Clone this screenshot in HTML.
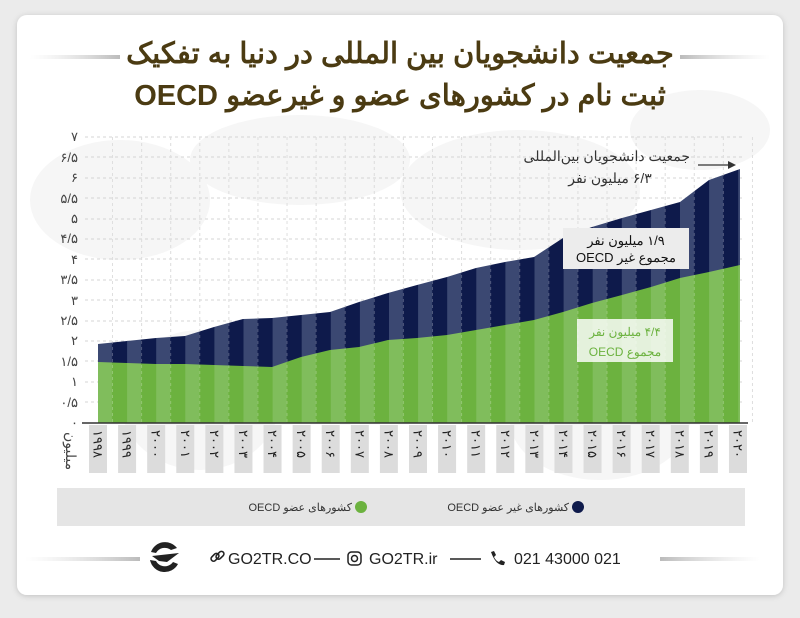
<!DOCTYPE html>
<html><head><meta charset="utf-8"><style>
html,body{margin:0;padding:0;background:#ebebeb;}
body{width:800px;height:618px;position:relative;overflow:hidden;font-family:"Liberation Sans","Noto Sans CJK SC",sans-serif;}
</style></head><body>
<svg width="800" height="618" viewBox="0 0 800 618" xmlns="http://www.w3.org/2000/svg" style="position:absolute;left:0;top:0">
<defs>
<filter id="sh" x="-5%" y="-5%" width="110%" height="110%"><feDropShadow dx="0" dy="1" stdDeviation="3" flood-color="#000" flood-opacity="0.18"/></filter>
<pattern id="pn" patternUnits="userSpaceOnUse" width="29.1" height="10" x="98" y="0">
<rect width="29.1" height="10" fill="#0e1a4b"/><rect x="0" width="14" height="10" fill="#3b4872"/></pattern>
<pattern id="pg" patternUnits="userSpaceOnUse" width="29.1" height="10" x="98" y="0">
<rect width="29.1" height="10" fill="#6cb23f"/><rect x="0" width="14" height="10" fill="#80bd5c"/></pattern>
<linearGradient id="gl" x1="0" x2="1"><stop offset="0" stop-color="#ddd" stop-opacity="0"/><stop offset="1" stop-color="#bbb"/></linearGradient>
<linearGradient id="gr" x1="0" x2="1"><stop offset="0" stop-color="#bbb"/><stop offset="1" stop-color="#ddd" stop-opacity="0"/></linearGradient>
</defs>
<rect x="17" y="15" width="766" height="580" rx="10" fill="#fff" filter="url(#sh)"/>
<g fill="#f6f6f6">
<ellipse cx="120" cy="200" rx="90" ry="60"/><ellipse cx="300" cy="160" rx="110" ry="45"/><ellipse cx="520" cy="190" rx="120" ry="60"/><ellipse cx="700" cy="130" rx="70" ry="40"/><ellipse cx="200" cy="400" rx="80" ry="70"/><ellipse cx="600" cy="420" rx="90" ry="60"/>
</g>
<rect x="30" y="55" width="90" height="4" fill="url(#gl)"/>
<rect x="680" y="55" width="90" height="4" fill="url(#gr)"/>
<g font-family="'Liberation Sans','Noto Sans CJK SC',sans-serif" font-weight="bold" fill="#4b3b12" text-anchor="middle" font-size="29">
<text x="400" y="63" direction="rtl">جمعیت دانشجویان بین المللی در دنیا به تفکیک</text>
<text x="400" y="105" direction="rtl">ثبت نام در کشورهای عضو و غیرعضو OECD</text>
</g>
<g stroke="#d4d4d4" stroke-width="1" stroke-dasharray="3,3">
<line x1="85" x2="745" y1="137" y2="137"/><line x1="85" x2="745" y1="157" y2="157"/><line x1="85" x2="745" y1="178" y2="178"/><line x1="85" x2="745" y1="198" y2="198"/><line x1="85" x2="745" y1="219" y2="219"/><line x1="85" x2="745" y1="239" y2="239"/><line x1="85" x2="745" y1="259" y2="259"/><line x1="85" x2="745" y1="280" y2="280"/><line x1="85" x2="745" y1="300" y2="300"/><line x1="85" x2="745" y1="321" y2="321"/><line x1="85" x2="745" y1="341" y2="341"/><line x1="85" x2="745" y1="361" y2="361"/><line x1="85" x2="745" y1="382" y2="382"/><line x1="85" x2="745" y1="402" y2="402"/>
</g>
<g stroke="#d4d4d4" stroke-dasharray="3,3" id="vg"></g>
<polygon fill="url(#pn)" points="98,423 98,344 127,341 156,338 185,336 214,327 243,319 272,318 301,315 330,312 359,302 388,293 417,285 447,277 476,268 505,262 534,257 563,238 592,227 622,218 651,210 680,202 709,180 740,169 740,423"/>
<polygon fill="url(#pg)" points="98,423 98,362 127,363 156,364 185,364 214,365 243,366 272,367 301,357 330,350 359,347 388,340 417,338 447,335 476,330 505,325 534,320 563,312 592,303 622,295 651,287 680,278 709,272 740,265 740,423"/>
<g stroke="#ffffff" stroke-opacity="0.25" stroke-dasharray="3,3" id="vg2"></g>
<line x1="82" x2="748" y1="423" y2="423" stroke="#333" stroke-width="1.5"/>
<g font-size="13" fill="#444" text-anchor="end" font-family="'Liberation Sans','Noto Sans CJK SC',sans-serif">
<text x="78" y="427">۰</text><text x="78" y="407">۰/۵</text><text x="78" y="386">۱</text><text x="78" y="366">۱/۵</text><text x="78" y="345">۲</text><text x="78" y="325">۲/۵</text><text x="78" y="305">۳</text><text x="78" y="284">۳/۵</text><text x="78" y="264">۴</text><text x="78" y="243">۴/۵</text><text x="78" y="223">۵</text><text x="78" y="203">۵/۵</text><text x="78" y="182">۶</text><text x="78" y="162">۶/۵</text><text x="78" y="141">۷</text>
</g>
<text transform="translate(66,432) rotate(90)" font-size="14" fill="#444" font-family="'Liberation Sans','Noto Sans CJK SC',sans-serif">میلیون</text>
<g id="xl" font-size="13" fill="#222" font-family="'Liberation Sans','Noto Sans CJK SC',sans-serif"></g>
<g font-family="'Liberation Sans','Noto Sans CJK SC',sans-serif">
<text x="690" y="161" font-size="14" fill="#333" text-anchor="start" direction="rtl">جمعیت دانشجویان بین‌المللی</text>
<text x="610" y="183" font-size="14" fill="#333" text-anchor="middle" direction="rtl">۶/۳ میلیون نفر</text>
<line x1="698" x2="730" y1="165" y2="165" stroke="#333" stroke-width="1.3"/>
<polygon points="736,165 728,161 728,169" fill="#333"/>
<rect x="563" y="228" width="126" height="41" fill="#ececec"/>
<text x="626" y="245" font-size="13" fill="#111" text-anchor="middle" direction="rtl">۱/۹ میلیون نفر</text>
<text x="626" y="262" font-size="13" fill="#111" text-anchor="middle" direction="rtl">مجموع غیر OECD</text>
<rect x="577" y="319" width="96" height="43" fill="#fff" fill-opacity="0.82"/>
<text x="625" y="336" font-size="12" fill="#6cb23f" text-anchor="middle" direction="rtl">۴/۴ میلیون نفر</text>
<text x="625" y="356" font-size="12" fill="#6cb23f" text-anchor="middle" direction="rtl">مجموع OECD</text>
</g>
<rect x="57" y="488" width="688" height="38" fill="#e5e5e5"/>
<circle cx="578" cy="507" r="6" fill="#0e1a4b"/>
<circle cx="361" cy="507" r="6" fill="#6cb23f"/>
<g font-size="11" fill="#333" text-anchor="start" font-family="'Liberation Sans','Noto Sans CJK SC',sans-serif">
<text x="569" y="511" direction="rtl">کشورهای غیر عضو OECD</text>
<text x="352" y="511" direction="rtl">کشورهای عضو OECD</text>
</g>
<rect x="25" y="557" width="115" height="4" fill="url(#gl)"/>
<rect x="660" y="557" width="100" height="4" fill="url(#gr)"/>
<g transform="translate(165,558)">
<path d="M-14,-6 A15,15 0 0 1 12,-10 L6,-8 A10,10 0 0 0 -9,-5 Z" fill="#222"/>
<path d="M-15,2 A15,15 0 0 0 13,6 L8,4 A10,10 0 0 1 -9,3 Z" fill="#222"/>
<path d="M-13,-2 L14,-5 L2,4 L-6,3 Z" fill="#222"/>
</g>
<g font-size="16" fill="#222" font-family="'Liberation Sans',sans-serif">
<g fill="none" stroke="#222" stroke-width="1.6"><rect x="211" y="555" width="9" height="5" rx="2.5" transform="rotate(-45 215 558)"/><rect x="216" y="553" width="9" height="5" rx="2.5" transform="rotate(-45 220 556)"/></g>
<text x="228" y="564">GO2TR.CO</text>
<line x1="314" x2="340" y1="559" y2="559" stroke="#222" stroke-width="1.5"/>
<rect x="348" y="552" width="13" height="13" rx="3.5" fill="none" stroke="#222" stroke-width="1.5"/>
<circle cx="354.5" cy="558.5" r="3" fill="none" stroke="#222" stroke-width="1.5"/>
<text x="369" y="564">GO2TR.ir</text>
<line x1="450" x2="481" y1="559" y2="559" stroke="#222" stroke-width="1.5"/>
<path d="M491,552 l3,-1 l2,4 l-2,2 q2,4 5,5 l2,-2 l4,2 l-1,3 q-8,1 -13,-13z" fill="#222"/>
<text x="514" y="564">021 43000 021</text>
</g>
</svg>
<script>
var ns="http://www.w3.org/2000/svg";
var pa="۰۱۲۳۴۵۶۷۸۹";
function fd(s){return String(s).replace(/[0-9]/g,function(c){return pa[+c];});}
var xl=document.getElementById("xl"),vg=document.getElementById("vg"),vg2=document.getElementById("vg2");
for(var i=0;i<23;i++){
 var x=98+i*29.09;
 var r=document.createElementNS(ns,"rect");
 r.setAttribute("x",x-9);r.setAttribute("y",425);r.setAttribute("width",18);r.setAttribute("height",48);r.setAttribute("fill","#dcdcdc");
 xl.appendChild(r);
 var t=document.createElementNS(ns,"text");
 t.setAttribute("transform","translate("+(x-4.5)+",430) rotate(90)");
 t.textContent=fd(1998+i);xl.appendChild(t);
 [vg,vg2].forEach(function(g){var l=document.createElementNS(ns,"line");
 l.setAttribute("x1",x+14.5);l.setAttribute("x2",x+14.5);l.setAttribute("y1",137);l.setAttribute("y2",423);g.appendChild(l);});
}
</script>
</body></html>
